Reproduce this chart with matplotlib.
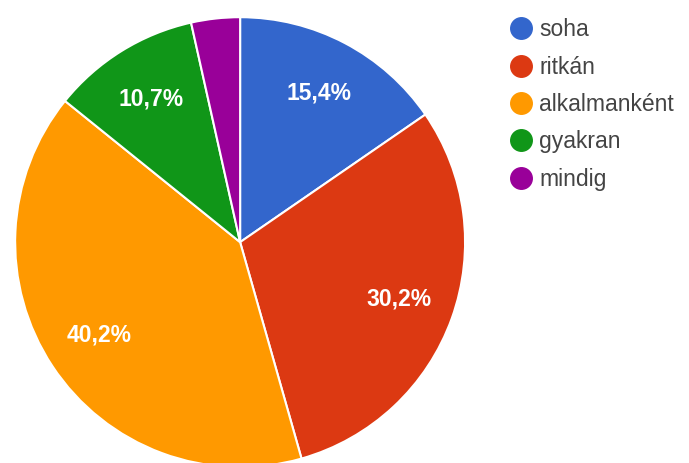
import matplotlib.pyplot as plt
from matplotlib.lines import Line2D

# Data
categories = ['soha', 'ritkán', 'alkalmanként', 'gyakran', 'mindig']
values = [15.4, 30.2, 40.2, 10.7, 3.5]
colors = ['#3366cc', '#dc3912', '#ff9900', '#109618', '#990099']

plt.rcParams['font.family'] = ['Liberation Sans', 'DejaVu Sans']

fig = plt.figure(figsize=(6.89, 4.63), dpi=100)
ax = fig.add_axes([0.022, -0.009, 0.653, 0.972])


def fmt_pct(p):
    # small slices get no label, like the original
    if p < 5:
        return ''
    return f'{p:.1f}%'.replace('.', ',')


wedges, texts, autotexts = ax.pie(
    values, colors=colors, startangle=90, counterclock=False,
    autopct=fmt_pct, pctdistance=0.75,
    wedgeprops={'edgecolor': 'white', 'linewidth': 1.5},
    textprops={'color': 'white', 'fontsize': 16.5, 'fontweight': 'bold'},
)
ax.set_xlim(-1, 1)
ax.set_ylim(-1, 1)
ax.set_aspect('equal')

# Legend with round markers at top right
handles = [Line2D([0], [0], marker='o', linestyle='', markersize=15.5,
                  markerfacecolor=c, markeredgecolor=c) for c in colors]
fig.legend(handles, categories, loc='upper left',
           bbox_to_anchor=(498 / 689, 1 - 9 / 463), frameon=False,
           fontsize=16.5, labelcolor='#444444', handletextpad=0.2,
           labelspacing=0.63, handlelength=1.2, borderaxespad=0)

fig.savefig('out.png', dpi=100)
